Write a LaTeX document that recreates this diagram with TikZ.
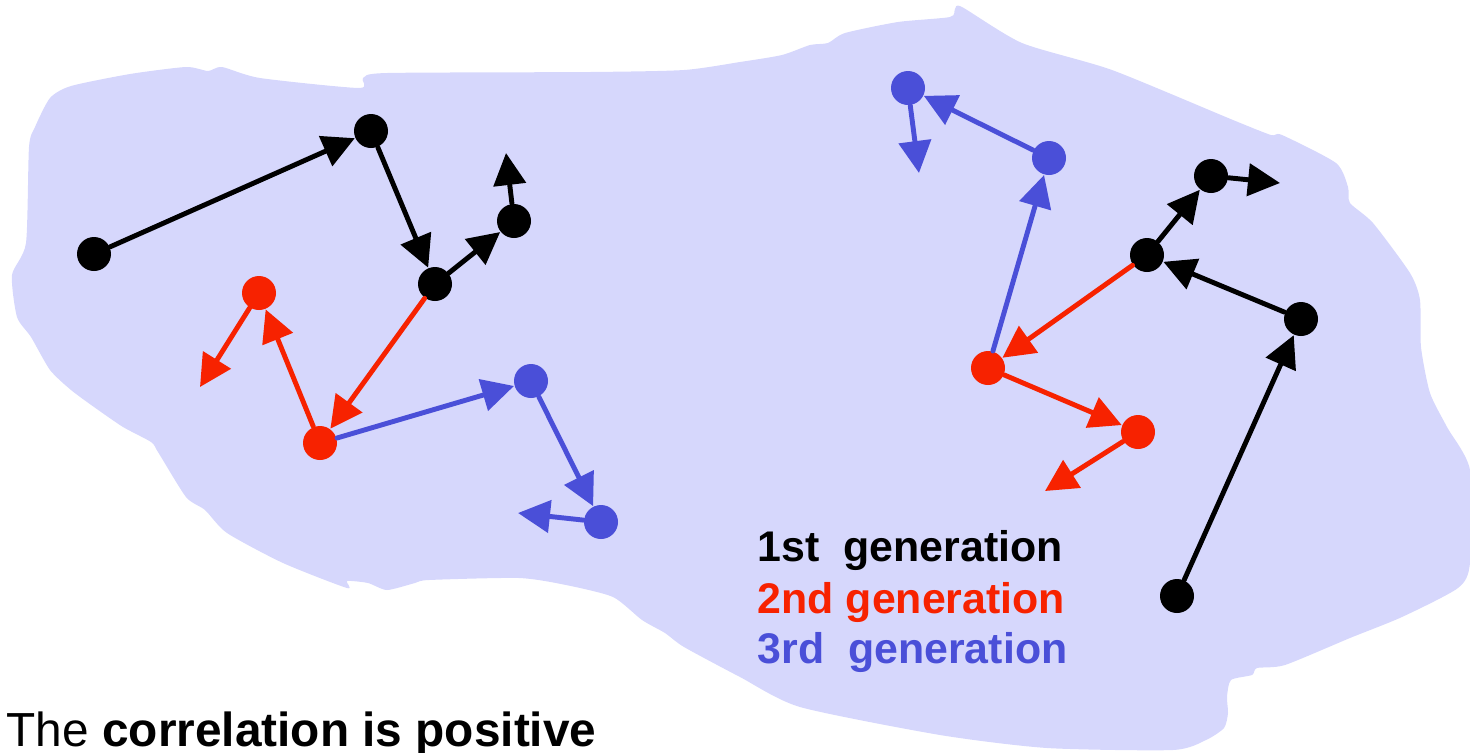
\documentclass[tikz,border=0pt]{standalone}
\usepackage{fontspec}
\setmainfont{Liberation Sans}
\usetikzlibrary{arrows.meta}
\definecolor{blob}{HTML}{D6D7FC}
\definecolor{gred}{HTML}{F72200}
\definecolor{gblue}{HTML}{4A4FD8}
\begin{document}
\begin{tikzpicture}[x=0.1mm, y=-0.1mm, line cap=round, line join=round,
    dot/.style={circle, fill, inner sep=0pt, minimum size=3.4mm},
    jump/.style={line width=1.4pt, -{Triangle[length=3.2mm,width=3.2mm]}},
    gen/.style={anchor=base west, inner sep=0pt, font=\bfseries\fontsize{12.2}{14}\selectfont}]
\useasboundingbox (0,0) rectangle (1470,752);
% the population
\fill[blob] plot[smooth cycle, tension=0.4] coordinates{(71,86) (130,74) (186,67) (208,71) (222,67) (260,78) (359,88) (363,78) (387,73) (590,72) (684,70) (740,62) (782,55) (810,45) (828,43) (845,33) (898,22) (950,17) (955,9) (962,7) (1022,43) (1112,70) (1233,120) (1271,135) (1282,135) (1336,163) (1348,187) (1350,203) (1373,223) (1410,273) (1420,300) (1421,347) (1430,393) (1447,427) (1470,470) (1470,563) (1458,588) (1402,617) (1350,638) (1285,665) (1257,668) (1252,675) (1231,680) (1227,697) (1228,713) (1224,728) (1206,740) (1173,750) (1047,748) (940,735) (800,707) (740,677) (684,647) (665,633) (642,620) (613,597) (566,585) (519,578) (429,580) (415,583) (387,590) (368,583) (347,581) (347,588) (283,563) (227,533) (205,510) (186,497) (158,452) (151,442) (123,427) (94,407) (71,390) (50,370) (31,337) (17,317) (12,275) (26,243) (29,147) (35,127) (50,98)};
% individuals
\foreach \n/\x/\y/\c in {a1/94/254/black, a2/371/131/black, a3/435/284/black, a4/514/221/black,
    r1/259/293/gred, r2/320/443/gred, b1/531/381/gblue, b2/601/522/gblue,
    d1/1177/596/black, d2/1301/319/black, d3/1147/255/black, d4/1211/176/black,
    e1/988/368/gred, e2/1138/432/gred, c1/908/88/gblue, c2/1049/158/gblue}
  \node[dot, \c] (\n) at (\x,\y) {};
% free ends
\coordinate (a5) at (506,153);
\coordinate (r0) at (200,387);
\coordinate (b3) at (518,513);
\coordinate (d5) at (1280,183);
\coordinate (e3) at (1045,491);
\coordinate (c0) at (919,173);
% steps
\foreach \s/\t/\c in {a1/a2/black, a2/a3/black, a3/a4/black, a4/a5/black,
    a3/r2/gred, r2/r1/gred, r1/r0/gred, r2/b1/gblue, b1/b2/gblue, b2/b3/gblue,
    d1/d2/black, d2/d3/black, d3/d4/black, d4/d5/black,
    d3/e1/gred, e1/e2/gred, e2/e3/gred, e1/c2/gblue, c2/c1/gblue, c1/c0/gblue}
  \draw[jump, \c] (\s) -- (\t);
% legend
\node[gen] (gen1) at (757,561) {1st~~generation};
\node[gen, gred] (gen2) at (757,613) {2nd generation};
\node[gen, gblue] (gen3) at (757,663) {3rd~~generation};
\node[anchor=base west, inner sep=0pt, font=\fontsize{13.6}{16}\selectfont] (note) at (6,746) {The \textbf{correlation is positive}};
\end{tikzpicture}
\end{document}
